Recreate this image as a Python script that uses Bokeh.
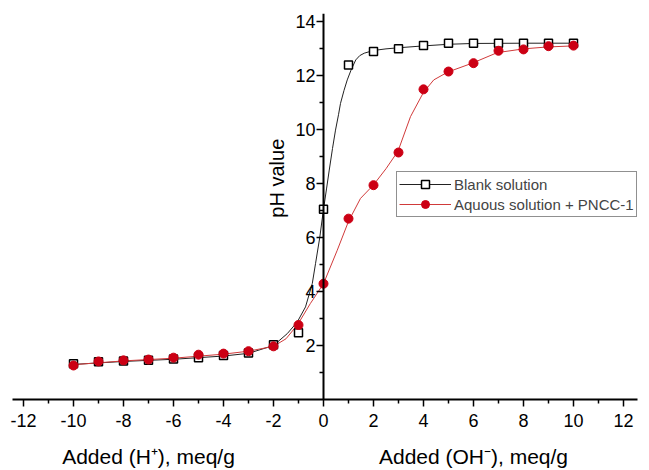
import math
from bokeh.plotting import figure
from bokeh.models import FixedTicker, Legend, LegendItem, Range1d, LinearAxis, Label
from bokeh.embed import file_html
from bokeh.resources import INLINE

# ---- data ----
added = [-10, -9, -8, -7, -6, -5, -4, -3, -2, -1, 0, 1, 2, 3, 4, 5, 6, 7, 8, 9, 10]
blank_ph = [1.32, 1.40, 1.43, 1.45, 1.50, 1.55, 1.63, 1.72, 2.03, 2.47, 7.05,
            12.39, 12.89, 12.99, 13.11, 13.20, 13.20, 13.20, 13.20, 13.20, 13.20]
pncc_ph = [1.26, 1.41, 1.45, 1.48, 1.55, 1.66, 1.70, 1.79, 1.97, 2.76, 4.29,
           6.70, 7.94, 9.15, 11.49, 12.15, 12.46, 12.92, 12.97, 13.09, 13.11]

# fitted curves
blank_fit_x = [-10, -8, -6, -4, -3, -2, -1.45, -1.05, -0.72, -0.45, -0.32, -0.15, 0,
               0.12, 0.23, 0.36, 0.48, 0.6, 0.68, 0.82, 0.95, 1.1, 1.29, 1.45, 1.63,
               2.0, 2.5, 3, 4, 5, 6, 8, 10]
blank_fit_y = [1.30, 1.41, 1.49, 1.61, 1.71, 2.00, 2.44, 2.87, 3.43, 4.29, 5.03, 6.0, 7.05,
               7.8, 8.5, 9.3, 9.98, 10.55, 10.97, 11.45, 11.84, 12.2, 12.58, 12.74, 12.83,
               12.93, 12.99, 13.03, 13.10, 13.16, 13.19, 13.2, 13.2]
pncc_fit_x = [-10, -8, -6, -4, -3, -2, -1.5, -1.03, -0.53, 0, 0.55, 1.0, 1.48, 2.0,
              2.5, 2.98, 3.48, 4.0, 4.41, 4.97, 5.95, 6.95, 8.0, 8.95, 10]
pncc_fit_y = [1.29, 1.43, 1.53, 1.68, 1.79, 1.97, 2.25, 2.78, 3.55, 4.29, 5.53, 6.60, 7.45, 7.95,
              8.55, 9.2, 10.48, 11.38, 11.84, 12.13, 12.46, 12.85, 12.99, 13.06, 13.10]

x_ticks = [-12, -10, -8, -6, -4, -2, 0, 2, 4, 6, 8, 10, 12]
x_minor = [-11, -9, -7, -5, -3, -1, 1, 3, 5, 7, 9, 11]
y_ticks = [2, 4, 6, 8, 10, 12, 14]
y_minor = [1, 3, 5, 7, 9, 11, 13]

series_names = ["Blank solution", "Aquous solution + PNCC-1"]
x_label_left = "Added (H\u207a), meq/g"
x_label_right = "Added (OH\u207b), meq/g"
x_label_pos = [-7, 6]
y_label = "pH value"

FONT = "Liberation Sans"
RED = "#CC0014"
RED_LINE = "#D03A3A"

p = figure(width=649, height=470, output_backend="svg", toolbar_location=None,
           x_range=Range1d(-12.44, 12.56), y_range=Range1d(0, 14.3),
           frame_width=625, frame_height=386,
           min_border_left=12, min_border_right=12, min_border_top=13, min_border_bottom=71)
p.outline_line_color = None
p.grid.visible = False
p.background_fill_color = "white"
p.border_fill_color = "white"

# x axis
xa = p.xaxis[0]
xa.ticker = FixedTicker(ticks=x_ticks, minor_ticks=x_minor)
xa.major_label_overrides = {t: str(t) for t in x_ticks}
xa.axis_line_width = 2
xa.axis_line_color = "black"
xa.major_tick_in = 0
xa.major_tick_out = 7
xa.minor_tick_in = 0
xa.minor_tick_out = 4
xa.major_tick_line_width = 1.5
xa.minor_tick_line_width = 1.5
xa.major_label_text_font = FONT
xa.major_label_text_font_size = "18px"
xa.major_label_text_color = "black"
xa.major_label_standoff = 7

# second "axis" carrying the two x titles
xt = LinearAxis(ticker=FixedTicker(ticks=x_label_pos, minor_ticks=[]),
                major_label_overrides={x_label_pos[0]: x_label_left, x_label_pos[1]: x_label_right},
                axis_line_color=None, major_tick_line_color=None, minor_tick_line_color=None,
                major_tick_in=0, major_tick_out=0, minor_tick_in=0, minor_tick_out=0,
                major_label_standoff=15, major_label_text_font=FONT,
                major_label_text_font_size="21px", major_label_text_color="black")
p.add_layout(xt, "below")

# y axis at x = 0
ya = p.yaxis[0]
ya.fixed_location = 0
ya.ticker = FixedTicker(ticks=y_ticks, minor_ticks=y_minor)
ya.axis_line_width = 2
ya.axis_line_color = "black"
ya.major_tick_in = 0
ya.major_tick_out = 7
ya.minor_tick_in = 0
ya.minor_tick_out = 4
ya.major_tick_line_width = 1.5
ya.minor_tick_line_width = 1.5
ya.major_label_text_font = FONT
ya.major_label_text_font_size = "18px"
ya.major_label_text_color = "black"
ya.major_label_standoff = 1

# y title placed beside the axis
p.add_layout(Label(x=-1.88, y=8.2, text=y_label, angle=math.pi / 2, angle_units="rad",
                   text_align="center", text_baseline="middle", text_font=FONT,
                   text_font_size="20px", text_color="black"))

# fitted lines
bl = p.line(blank_fit_x, blank_fit_y, line_color="#222222", line_width=1)
rl = p.line(pncc_fit_x, pncc_fit_y, line_color=RED_LINE, line_width=1)

# points
bs = p.scatter(added, blank_ph, marker="square", size=8, fill_color="white",
               line_color="black", line_width=1.5)
rs = p.scatter(added, pncc_ph, marker="circle", size=9, fill_color=RED,
               line_color=RED, line_width=1)

legend = Legend(items=[LegendItem(label=series_names[0], renderers=[bl, bs]),
                       LegendItem(label=series_names[1], renderers=[rl, rs])],
                location=(384, 182), padding=2, spacing=0, glyph_width=52, glyph_height=20,
                label_standoff=3, label_text_font=FONT, label_text_font_size="15px",
                border_line_color="#222222", border_line_width=1.5,
                background_fill_color="white", background_fill_alpha=1.0, margin=0)
p.add_layout(legend)

open("out.html", "w").write(file_html(p, INLINE))
